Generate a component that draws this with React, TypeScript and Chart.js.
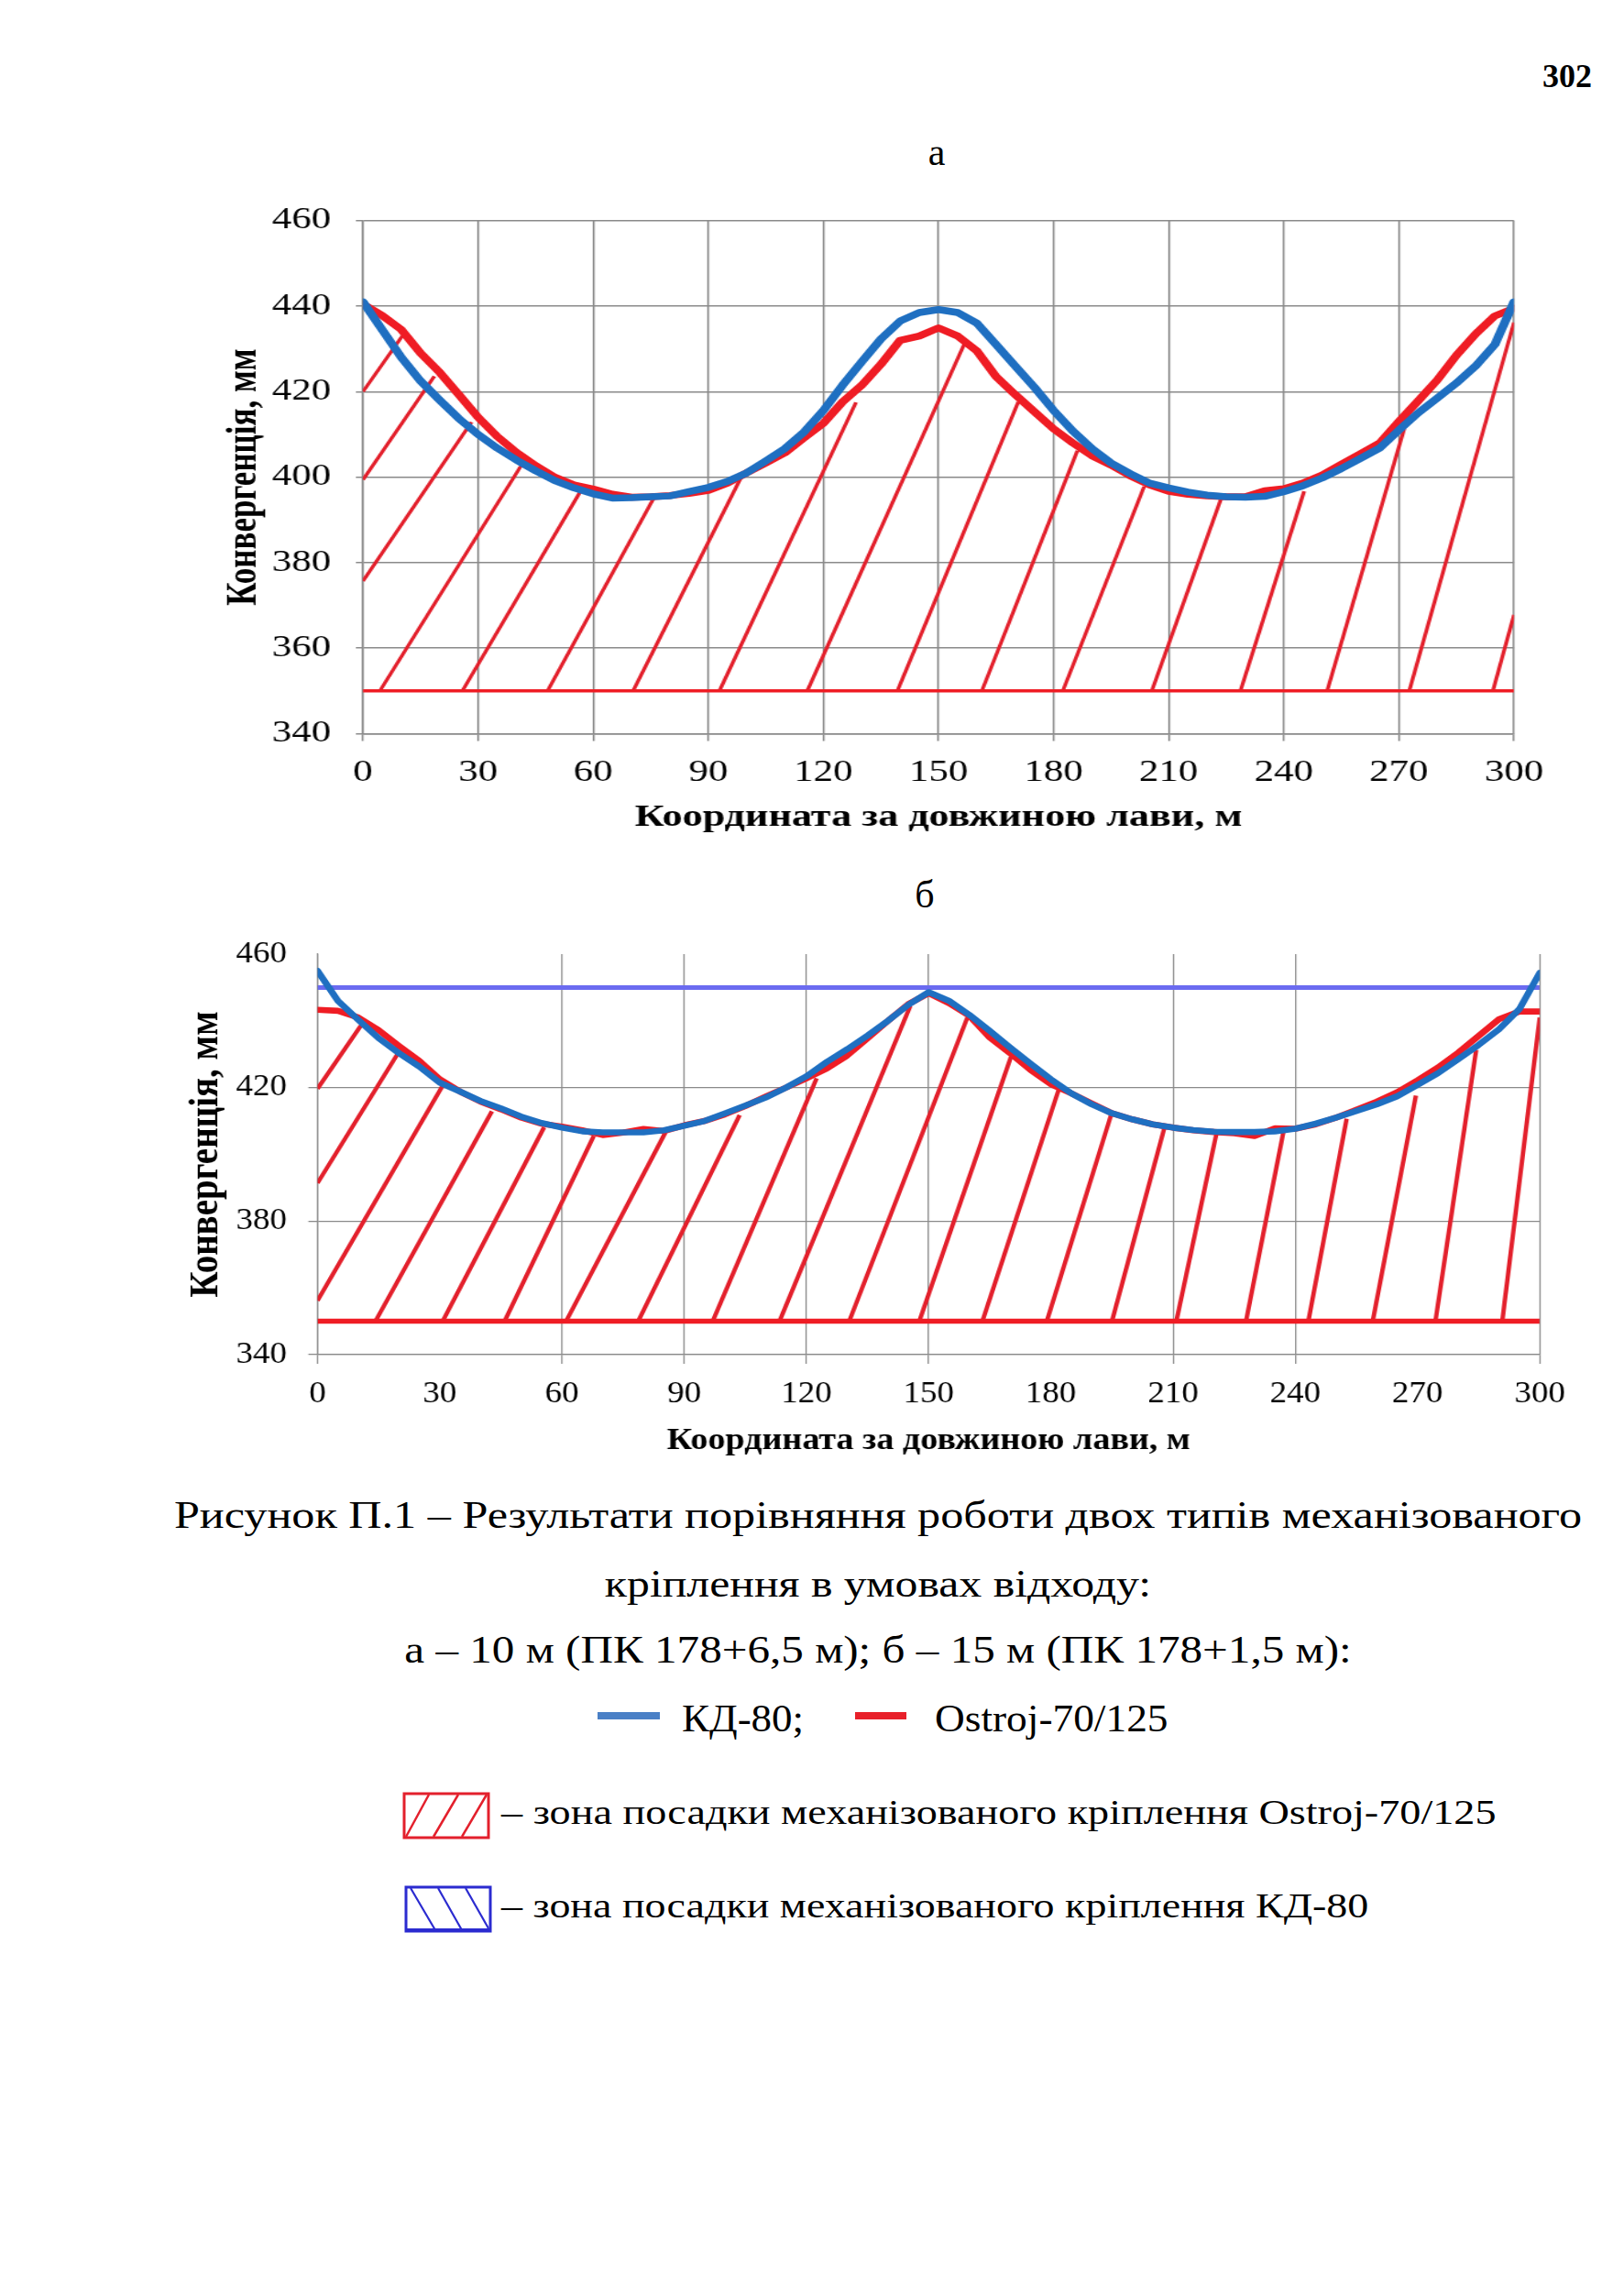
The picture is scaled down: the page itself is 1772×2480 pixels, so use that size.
import React, { useEffect, useRef } from "react";
import { Chart, registerables } from "chart.js";

Chart.register(...registerables);

const SERIF = "'Liberation Serif', 'Times New Roman', serif";

// ---------------- data ----------------
const X_POS = [0, 5, 10, 15, 20, 25, 30, 35, 40, 45, 50, 55, 60, 65, 70, 75, 80, 85, 90, 95, 100, 105, 110, 115, 120, 125, 130, 135, 140, 145, 150, 155, 160, 165, 170, 175, 180, 185, 190, 195, 200, 205, 210, 215, 220, 225, 230, 235, 240, 245, 250, 255, 260, 265, 270, 275, 280, 285, 290, 295, 300];

// chart "а"
const A_KD80 = [441, 434.5, 428, 422.5, 418, 413.7, 410, 406.8, 404, 401.5, 399.2, 397.5, 396.1, 395.1, 395.2, 395.4, 395.6, 396.6, 397.6, 399, 401, 403.8, 406.7, 410.6, 415.6, 421.5, 427, 432.3, 436.5, 438.5, 439.2, 438.5, 436, 431, 426, 421, 415.6, 410.8, 406.7, 403.3, 400.8, 398.6, 397.5, 396.5, 395.8, 395.4, 395.3, 395.5, 396.6, 398, 399.8, 402, 404.4, 406.8, 411, 415, 418.5, 422, 426, 431, 441];
const A_OSTROJ = [440.5, 437.8, 434.5, 429, 424.5, 419.3, 414, 409.5, 405.8, 402.7, 400, 398.2, 397.2, 396, 395.3, 395.4, 395.7, 396.2, 396.9, 398.6, 401, 403.3, 405.7, 409.2, 412.6, 417.6, 421.5, 426.4, 432, 433, 434.9, 433, 429.5, 423.5, 419.3, 415.3, 411.3, 408, 405, 402.8, 400.3, 398.2, 396.7, 396, 395.6, 395.4, 395.4, 396.8, 397.3, 398.6, 400.5, 403, 405.5, 408, 413, 417.8, 422.7, 428.5, 433.5, 437.7, 439.5];

// chart "б"
const B_KD80 = [455, 446, 440.3, 434.8, 430.3, 426.3, 421.5, 418.8, 416, 413.8, 411.3, 409.4, 408, 406.9, 406.6, 406.6, 406.6, 407.2, 408.6, 410, 412.3, 414.6, 417, 420, 423.4, 427.7, 431.5, 435.6, 440, 444.8, 448.6, 446, 441.8, 437, 432, 427.2, 422.5, 418.3, 415, 412.3, 410.5, 409, 408, 407.3, 406.8, 406.7, 406.7, 406.9, 407.7, 409.2, 411, 413, 415, 417.4, 420.8, 424.3, 428.5, 432.8, 437.5, 443.5, 454.4];
const B_OSTROJ = [443.3, 443, 441, 437.2, 432.5, 428, 422.5, 418.8, 415.8, 413.5, 411, 409.2, 408.3, 407.2, 405.8, 406.5, 407.6, 407, 408.7, 410, 412, 414.5, 417.3, 420, 422.8, 425.7, 429.6, 434.8, 440, 445, 448.3, 445.3, 441.5, 435, 430.3, 425.3, 421, 418.3, 415.3, 412.3, 410.5, 409, 408, 407.2, 406.7, 406.3, 405.5, 407.8, 407.7, 409, 411, 413.4, 415.8, 418.6, 422.2, 426, 430.5, 435.5, 440.5, 442.8, 442.8];

// axes
const X_MIN = 0;
const X_MAX = 300;
const X_STEP = 30;
const A_Y_MIN = 340;
const A_Y_MAX = 460;
const A_Y_STEP = 20;
const B_Y_MIN = 340;
const B_Y_MAX = 460;
const B_Y_STEP = 40;
const B_HIDDEN_X_GRID = [30, 180, 270];
const B_HIDDEN_Y_GRID = [460];

// levels
const BASE_LEVEL = 350;
const B_LIMIT_LEVEL = 450;

// hatch segments (start -> end), chart "а"
const A_HATCH_X0 = [0, 0, 0, 4.4, 25.9, 48.1, 70.4, 92.9, 115.8, 139.3, 161.3, 182.4, 205.6, 228.7, 251.3, 272.7, 294.5];
const A_HATCH_Y0 = [420, 399.4, 375.7, 350, 350, 350, 350, 350, 350, 350, 350, 350, 350, 350, 350, 350, 350];
const A_HATCH_X1 = [10.3, 18.6, 28.3, 42, 56.7, 75.8, 98.7, 128.5, 156.9, 170.8, 186.2, 203.6, 223.7, 245.3, 272.7, 300, 300];
const A_HATCH_Y1 = [433.1, 423.6, 412.9, 403.8, 396.7, 395.1, 400.2, 417.5, 431.5, 417.6, 406.2, 397.8, 395.1, 396.7, 415.3, 436.2, 367.8];

// hatch segments, chart "б"
const B_HATCH_X0 = [0, 0, 0, 14.2, 30.7, 45.9, 61, 78.7, 97, 113.4, 130.5, 147.7, 163.2, 179, 195, 210.8, 227.9, 243.2, 259, 274.4, 290.8];
const B_HATCH_Y0 = [419.7, 391.4, 356.2, 350, 350, 350, 350, 350, 350, 350, 350, 350, 350, 350, 350, 350, 350, 350, 350, 350, 350];
const B_HATCH_X1 = [11.2, 19.7, 31.3, 42.8, 55.6, 67.8, 85.4, 103.6, 122.5, 145.5, 159.6, 170.2, 182, 194.9, 207.9, 220.8, 237.3, 252.6, 269.6, 284.4, 300];
const B_HATCH_Y1 = [439.6, 430.2, 421.8, 412.9, 408.1, 405.5, 406.6, 411.8, 422.8, 444.5, 441.3, 429.2, 419.7, 412.3, 408.1, 407.1, 408.1, 410.7, 417.6, 431.3, 441];

// texts
const Y_TITLE = "Конвергенція, мм";
const X_TITLE = "Координата за довжиною лави, м";

// ---------------- styles ----------------
const KD_BLUE = "#1f6fc1";
const OS_RED = "#ef1c24";
const HATCH_RED = "#e3202c";
const LIMIT_BLUE = "#6b6bf0";
const GRID = "#8a8a8a";
const TRANSPARENT = "rgba(0,0,0,0)";

const toPoints = (xs: number[], ys: number[]) => xs.map((x, i) => ({ x, y: ys[i] }));
const segPoints = (x0: number[], y0: number[], x1: number[], y1: number[]) =>
  x0.flatMap((x, i) => [
    { x, y: y0[i] },
    { x: x1[i], y: y1[i] },
    { x: x1[i], y: null as any },
  ]);
const levelPoints = (level: number) => [
  { x: X_MIN, y: level },
  { x: X_MAX, y: level },
];

type Spec = {
  w: number;
  h: number;
  padTop: number;
  padRight: number;
  yAxisW: number;
  xAxisH: number;
  yTickLen: number;
  yTickPad: number;
  xTickLen: number;
  xTickPad: number;
  yTitleSize: number;
  yTitlePad: number;
  xTitleSize: number;
  xTitlePad: number;
  tickSize: number;
  curveW: number;
  hatchW: number;
  baseW: number;
  gridW: number;
  yMin: number;
  yMax: number;
  yStep: number;
  hiddenX: number[];
  hiddenY: number[];
};

function buildConfig(spec: Spec, datasets: any[]): any {
  const tickFont = { family: SERIF, size: spec.tickSize };
  return {
    type: "line",
    data: { datasets },
    options: {
      responsive: false,
      animation: false,
      devicePixelRatio: 1,
      events: [],
      layout: { padding: { left: 0, right: spec.padRight, top: spec.padTop, bottom: 0 } },
      plugins: { legend: { display: false }, tooltip: { enabled: false } },
      elements: { point: { radius: 0 }, line: { tension: 0 } },
      scales: {
        x: {
          type: "linear",
          min: X_MIN,
          max: X_MAX,
          ticks: { stepSize: X_STEP, font: tickFont, color: "#000", padding: spec.xTickPad, maxRotation: 0, autoSkip: false },
          grid: {
            color: (ctx: any) => (ctx.tick && spec.hiddenX.includes(ctx.tick.value) ? TRANSPARENT : GRID),
            lineWidth: spec.gridW,
            tickLength: spec.xTickLen,
            drawTicks: true,
          },
          border: { display: true, color: GRID, width: spec.gridW },
          title: {
            display: true,
            text: X_TITLE,
            color: "#000",
            font: { family: SERIF, size: spec.xTitleSize, weight: "bold" },
            padding: { top: 0, bottom: spec.xTitlePad },
          },
          afterFit: (s: any) => {
            s.height = spec.xAxisH;
          },
        },
        y: {
          type: "linear",
          min: spec.yMin,
          max: spec.yMax,
          ticks: { stepSize: spec.yStep, font: tickFont, color: "#000", padding: spec.yTickPad },
          grid: {
            color: (ctx: any) => (ctx.tick && spec.hiddenY.includes(ctx.tick.value) ? TRANSPARENT : GRID),
            lineWidth: spec.gridW,
            tickLength: spec.yTickLen,
            drawTicks: true,
          },
          border: { display: true, color: GRID, width: spec.gridW },
          title: {
            display: true,
            text: Y_TITLE,
            color: "#000",
            font: { family: SERIF, size: spec.yTitleSize, weight: "bold" },
            padding: { top: spec.yTitlePad, bottom: 0 },
          },
          afterFit: (s: any) => {
            s.width = spec.yAxisW;
          },
        },
      },
    },
  };
}

const SPEC_A: Spec = {
  w: 1142,
  h: 720,
  padTop: 40.5,
  padRight: 52.8,
  yAxisW: 123.1,
  xAxisH: 119.5,
  yTickLen: 6,
  yTickPad: 20.9,
  xTickLen: 8,
  xTickPad: 15,
  yTitleSize: 35,
  yTitlePad: 2.6,
  xTitleSize: 34,
  xTitlePad: 7,
  tickSize: 33,
  curveW: 7.5,
  hatchW: 3.2,
  baseW: 3.5,
  gridW: 1.5,
  yMin: A_Y_MIN,
  yMax: A_Y_MAX,
  yStep: A_Y_STEP,
  hiddenX: [],
  hiddenY: [],
};

const SPEC_B: Spec = {
  w: 1375,
  h: 610,
  padTop: 41,
  padRight: 44.6,
  yAxisW: 139.7,
  xAxisH: 132,
  yTickLen: 9,
  yTickPad: 20.9,
  xTickLen: 10,
  xTickPad: 13.2,
  yTitleSize: 39,
  yTitlePad: 8.7,
  xTitleSize: 34,
  xTitlePad: 17.1,
  tickSize: 33,
  curveW: 6.6,
  hatchW: 4.3,
  baseW: 5.5,
  gridW: 1.3,
  yMin: B_Y_MIN,
  yMax: B_Y_MAX,
  yStep: B_Y_STEP,
  hiddenX: B_HIDDEN_X_GRID,
  hiddenY: B_HIDDEN_Y_GRID,
};

function datasetsA(spec: Spec) {
  return [
    { label: "КД-80", data: toPoints(X_POS, A_KD80), borderColor: KD_BLUE, borderWidth: spec.curveW, order: 0, borderJoinStyle: "round", borderCapStyle: "round" },
    { label: "Ostroj-70/125", data: toPoints(X_POS, A_OSTROJ), borderColor: OS_RED, borderWidth: spec.curveW, order: 1, borderJoinStyle: "round", borderCapStyle: "round" },
    { label: "base", data: levelPoints(BASE_LEVEL), borderColor: OS_RED, borderWidth: spec.baseW, order: 2 },
    { label: "hatch", data: segPoints(A_HATCH_X0, A_HATCH_Y0, A_HATCH_X1, A_HATCH_Y1), borderColor: HATCH_RED, borderWidth: spec.hatchW, spanGaps: false, order: 3 },
  ];
}

function datasetsB(spec: Spec) {
  return [
    { label: "КД-80", data: toPoints(X_POS, B_KD80), borderColor: KD_BLUE, borderWidth: spec.curveW, order: 0, borderJoinStyle: "round", borderCapStyle: "round" },
    { label: "Ostroj-70/125", data: toPoints(X_POS, B_OSTROJ), borderColor: OS_RED, borderWidth: spec.curveW, order: 1, borderJoinStyle: "round", borderCapStyle: "round" },
    { label: "limit", data: levelPoints(B_LIMIT_LEVEL), borderColor: LIMIT_BLUE, borderWidth: 5, order: 2 },
    { label: "base", data: levelPoints(BASE_LEVEL), borderColor: OS_RED, borderWidth: spec.baseW, order: 3 },
    { label: "hatch", data: segPoints(B_HATCH_X0, B_HATCH_Y0, B_HATCH_X1, B_HATCH_Y1), borderColor: HATCH_RED, borderWidth: spec.hatchW, spanGaps: false, order: 4 },
  ];
}

function ChartBox(props: { left: number; top: number; sx: number; spec: Spec; datasets: any[] }) {
  const ref = useRef<HTMLCanvasElement | null>(null);
  useEffect(() => {
    if (!ref.current) return;
    const chart = new Chart(ref.current, buildConfig(props.spec, props.datasets));
    return () => chart.destroy();
  }, []);
  const { w, h } = props.spec;
  return (
    <div
      style={{
        position: "absolute",
        left: props.left,
        top: props.top,
        width: w,
        height: h,
        transform: `scaleX(${props.sx})`,
        transformOrigin: "0 0",
      }}
    >
      <canvas ref={ref} width={w} height={h} style={{ width: w, height: h, display: "block" }} />
    </div>
  );
}

function CText(props: { cx: number; cy: number; size: number; sx?: number; bold?: boolean; children: any }) {
  const lh = Math.round(props.size * 1.2);
  return (
    <div
      style={{
        position: "absolute",
        left: props.cx - 900,
        width: 1800,
        top: props.cy - lh / 2,
        height: lh,
        lineHeight: `${lh}px`,
        fontSize: props.size,
        fontWeight: props.bold ? "bold" : "normal",
        textAlign: "center",
        whiteSpace: "nowrap",
        transform: `scaleX(${props.sx ?? 1})`,
        transformOrigin: "50% 50%",
      }}
    >
      {props.children}
    </div>
  );
}

function LText(props: { x: number; cy: number; size: number; sx?: number; children: any }) {
  const lh = Math.round(props.size * 1.2);
  return (
    <div
      style={{
        position: "absolute",
        left: props.x,
        top: props.cy - lh / 2,
        height: lh,
        lineHeight: `${lh}px`,
        fontSize: props.size,
        whiteSpace: "nowrap",
        transform: `scaleX(${props.sx ?? 1})`,
        transformOrigin: "0 50%",
      }}
    >
      {props.children}
    </div>
  );
}

export default function App() {
  return (
    <div
      style={{
        position: "absolute",
        left: 0,
        top: 0,
        width: 1772,
        height: 2480,
        background: "#fff",
        color: "#000",
        fontFamily: SERIF,
        overflow: "hidden",
      }}
    >
      <div
        style={{
          position: "absolute",
          right: 1772 - 1737,
          top: 83 - 22,
          lineHeight: "44px",
          fontSize: 36,
          fontWeight: "bold",
        }}
      >
        302
      </div>

      <CText cx={1022} cy={166} size={42}>а</CText>
      <ChartBox left={236} top={200} sx={1.3} spec={SPEC_A} datasets={datasetsA(SPEC_A)} />

      <CText cx={1009} cy={976} size={42}>б</CText>
      <ChartBox left={190} top={1000} sx={1.12} spec={SPEC_B} datasets={datasetsB(SPEC_B)} />

      <CText cx={958} cy={1653} size={42} sx={1.195}>Рисунок П.1 –  Результати порівняння роботи двох типів механізованого</CText>
      <CText cx={958} cy={1728} size={42} sx={1.185}>кріплення в умовах відходу:</CText>
      <CText cx={958} cy={1800} size={42} sx={1.17}>а – 10 м (ПК 178+6,5 м); б – 15 м (ПК 178+1,5 м):</CText>

      <div style={{ position: "absolute", left: 652, top: 1868, width: 68, height: 8, background: "#4a80c6" }} />
      <LText x={744} cy={1875} size={42} sx={1.07}>КД-80;</LText>
      <div style={{ position: "absolute", left: 933, top: 1868, width: 56, height: 8, background: "#e8202a" }} />
      <LText x={1020} cy={1875} size={42} sx={1.08}>Ostroj-70/125</LText>

      <svg style={{ position: "absolute", left: 438, top: 1954 }} width={100} height={56}>
        <rect x={3} y={3} width={92} height={48} fill="none" stroke="#e3202c" strokeWidth={3} />
        <line x1={5} y1={50} x2={30} y2={4} stroke="#e3202c" strokeWidth={2.5} />
        <line x1={35} y1={50} x2={62} y2={4} stroke="#e3202c" strokeWidth={2.5} />
        <line x1={66} y1={50} x2={93} y2={4} stroke="#e3202c" strokeWidth={2.5} />
      </svg>
      <LText x={547} cy={1977} size={38} sx={1.215}>– зона посадки механізованого кріплення Ostroj-70/125</LText>

      <svg style={{ position: "absolute", left: 440, top: 2056 }} width={100} height={56}>
        <rect x={3} y={3} width={92} height={48} fill="none" stroke="#2b2bd0" strokeWidth={3} />
        <line x1={3} y1={50} x2={95} y2={50} stroke="#2b2bd0" strokeWidth={4} />
        <line x1={8} y1={4} x2={35} y2={50} stroke="#2b2bd0" strokeWidth={2.2} />
        <line x1={38} y1={4} x2={64} y2={50} stroke="#2b2bd0" strokeWidth={2.2} />
        <line x1={68} y1={4} x2={93} y2={48} stroke="#2b2bd0" strokeWidth={2.2} />
      </svg>
      <LText x={547} cy={2079} size={38} sx={1.21}>– зона посадки механізованого кріплення КД-80</LText>
    </div>
  );
}
